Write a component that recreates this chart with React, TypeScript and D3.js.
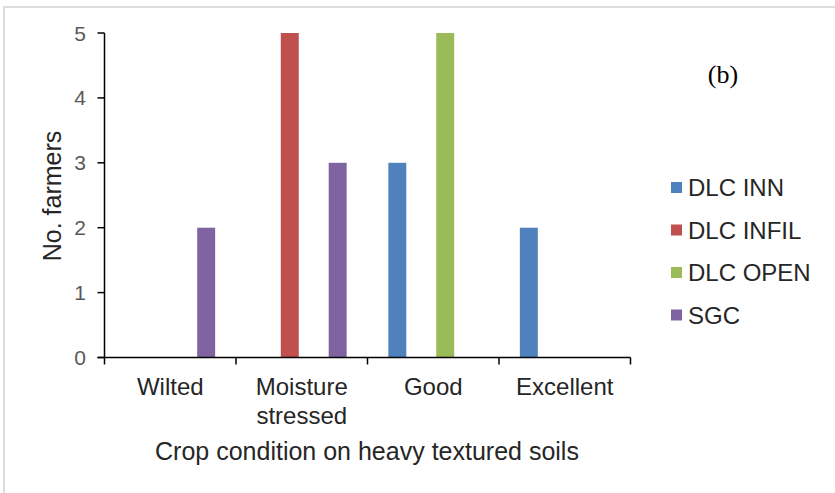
import React from "react";
import * as d3 from "d3";

const categories = ["Wilted", "Moisture stressed", "Good", "Excellent"];
const categoryLines = [["Wilted"], ["Moisture", "stressed"], ["Good"], ["Excellent"]];
const seriesNames = ["DLC INN", "DLC INFIL", "DLC OPEN", "SGC"];
const seriesColors = ["#4F81BD", "#C0504D", "#9BBB59", "#8064A2"];
const dlcInn = [0, 0, 3, 2];
const dlcInfil = [0, 5, 0, 0];
const dlcOpen = [0, 0, 5, 0];
const sgc = [2, 3, 0, 0];
const yTicks = [0, 1, 2, 3, 4, 5];
const seriesValues = [dlcInn, dlcInfil, dlcOpen, sgc];

const W = 835;
const H = 493;
const plot = { left: 104.5, right: 630.5, top: 33, bottom: 357.5 };
const SANS = "'Liberation Sans', Arial, sans-serif";

export default function App() {
  const x0 = d3.scaleBand<string>().domain(categories).range([plot.left, plot.right]).paddingInner(0).paddingOuter(0);
  const x1 = d3
    .scaleBand<string>()
    .domain(seriesNames)
    .range([0, x0.bandwidth()])
    .paddingInner(0.25)
    .paddingOuter(0.87);
  const y = d3.scaleLinear().domain([0, 5]).range([plot.bottom, plot.top]);

  const boundaries = [...categories.map((c) => x0(c) as number), plot.right];

  return (
    <svg width={W} height={H} style={{ position: "absolute", left: 0, top: 0, background: "#fff" }}>
      <rect x={0} y={0} width={W} height={H} fill="#fff" />
      {/* outer frame */}
      <path d={`M4,${H + 5} L4,7 L${W + 5},7`} fill="none" stroke="#dcdcdc" strokeWidth={2} />

      {/* bars */}
      {seriesNames.map((s, si) =>
        categories.map((c, ci) => {
          const v = seriesValues[si][ci];
          if (!v) return null;
          return (
            <rect
              key={s + c}
              x={(x0(c) as number) + (x1(s) as number)}
              y={y(v)}
              width={x1.bandwidth()}
              height={y(0) - y(v)}
              fill={seriesColors[si]}
            />
          );
        })
      )}

      {/* y axis */}
      <line x1={plot.left} x2={plot.left} y1={y(5)} y2={y(0)} stroke="#000" strokeWidth={1.5} />
      {yTicks.map((t) => (
        <g key={t}>
          <line x1={plot.left - 7} x2={plot.left} y1={y(t)} y2={y(t)} stroke="#000" strokeWidth={1.5} />
          <text
            x={86}
            y={y(t)}
            dy="0.36em"
            textAnchor="end"
            fontFamily={SANS}
            fontSize={21}
            fill="#595959"
          >
            {t}
          </text>
        </g>
      ))}

      {/* x axis */}
      <line x1={plot.left - 7} x2={plot.right} y1={plot.bottom} y2={plot.bottom} stroke="#000" strokeWidth={1.5} />
      {boundaries.map((b, i) => (
        <line key={i} x1={b} x2={b} y1={plot.bottom} y2={plot.bottom + 7} stroke="#000" strokeWidth={1.5} />
      ))}
      {categories.map((c, ci) => (
        <text
          key={c}
          x={(x0(c) as number) + x0.bandwidth() / 2}
          y={395}
          textAnchor="middle"
          fontFamily={SANS}
          fontSize={24}
          fill="#262626"
        >
          {categoryLines[ci].map((ln, li) => (
            <tspan key={li} x={(x0(c) as number) + x0.bandwidth() / 2} dy={li === 0 ? 0 : 29}>
              {ln}
            </tspan>
          ))}
        </text>
      ))}

      {/* axis titles */}
      <text x={367} y={460} textAnchor="middle" fontFamily={SANS} fontSize={25} fill="#262626">
        Crop condition on heavy textured soils
      </text>
      <text
        transform={`translate(61,196) rotate(-90)`}
        textAnchor="middle"
        fontFamily={SANS}
        fontSize={25}
        fill="#262626"
      >
        No. farmers
      </text>

      {/* panel label */}
      <text x={723} y={83} textAnchor="middle" fontFamily="'Liberation Serif', 'Times New Roman', serif" fontSize={26} fill="#000">
        (b)
      </text>

      {/* legend */}
      {seriesNames.map((s, i) => {
        const cy = 187.5 + i * 42.5;
        return (
          <g key={s}>
            <rect x={671} y={cy - 5.5} width={11} height={11} fill={seriesColors[i]} />
            <text x={688} y={cy} dy="0.36em" fontFamily={SANS} fontSize={24} fill="#262626">
              {s}
            </text>
          </g>
        );
      })}
    </svg>
  );
}
